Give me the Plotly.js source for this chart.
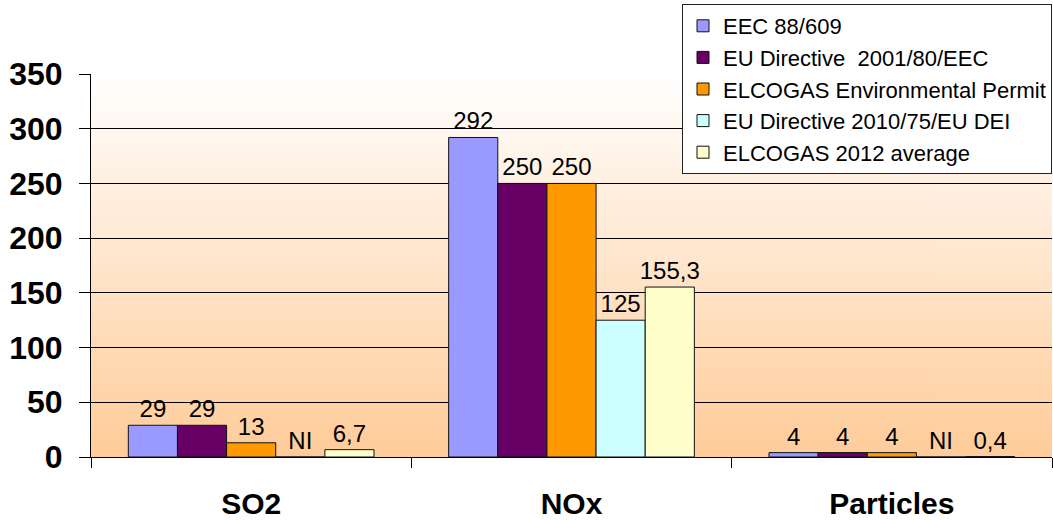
<!DOCTYPE html>
<html>
<head>
<meta charset="utf-8">
<script src="https://cdn.plot.ly/plotly-3.0.1.min.js"></script>
<style>
  html, body { margin: 0; padding: 0; background: #fff; }
  #chart { width: 1053px; height: 520px; }
</style>
</head>
<body>
<div id="chart"></div>
<script>
// ---- data ----
const categories = ['SO2', 'NOx', 'Particles'];
const seriesNames = [
  'EEC 88/609',
  'EU Directive  2001/80/EEC',
  'ELCOGAS Environmental Permit',
  'EU Directive 2010/75/EU DEI',
  'ELCOGAS 2012 average'
];
const eec88609      = [29, 292, 4];
const euDir200180   = [29, 250, 4];
const elcogasPermit = [13, 250, 4];
const euDir201075   = [null, 125, null];   // NI = not indicated
const elcogas2012   = [6.7, 155.3, 0.4];
const yTicks = [0, 50, 100, 150, 200, 250, 300, 350];

const seriesValues = [eec88609, euDir200180, elcogasPermit, euDir201075, elcogas2012];
const seriesColors = ['#9999FF', '#660066', '#FF9900', '#CCFFFF', '#FFFFCC'];

// ---- background gradient (plot area) ----
function gradientURL() {
  const c = document.createElement('canvas');
  c.width = 4; c.height = 400;
  const g = c.getContext('2d');
  const lg = g.createLinearGradient(0, 0, 0, 400);
  lg.addColorStop(0, '#FFFFFF');
  lg.addColorStop(1, '#FFCC99');
  g.fillStyle = lg;
  g.fillRect(0, 0, 4, 400);
  return c.toDataURL('image/png');
}

const FONT = '"Liberation Sans", Arial, sans-serif';

const traces = seriesValues.map((vals, i) => ({
  type: 'bar',
  name: seriesNames[i],
  x: categories,
  y: vals.map(v => (v === null ? 0 : v)),
  text: vals.map(v => (v === null ? 'NI' : String(v).replace('.', ','))),
  textposition: 'outside',
  constraintext: 'none',
  cliponaxis: false,
  textfont: { family: FONT, size: 24, color: '#000' },
  marker: { color: seriesColors[i], line: { color: '#111', width: 1 } },
  hoverinfo: 'x+y+name'
}));

const layout = {
  width: 1053,
  height: 520,
  margin: { l: 91, r: 1, t: 74, b: 63, autoexpand: false },
  paper_bgcolor: '#FFFFFF',
  plot_bgcolor: 'rgba(0,0,0,0)',
  font: { family: FONT, color: '#000' },
  barmode: 'group',
  bargap: 0.233,
  bargroupgap: 0,
  showlegend: true,
  legend: {
    x: 1, xanchor: 'right',
    yref: 'container', y: 1 - 4 / 520, yanchor: 'top',
    bgcolor: '#FFFFFF',
    bordercolor: '#222',
    borderwidth: 1,
    font: { family: FONT, size: 22, color: '#000' },
    traceorder: 'normal',
    tracegroupgap: 0
  },
  xaxis: {
    type: 'category',
    showline: true, linecolor: '#000', linewidth: 1,
    ticks: 'outside', tickson: 'boundaries', ticklen: 10, tickcolor: '#000',
    tickfont: { family: FONT, size: 30, color: '#000', weight: 'bold' },
    ticklabelstandoff: 20,
    showgrid: false
  },
  yaxis: {
    range: [0, 350],
    tickvals: yTicks,
    ticktext: yTicks.map(String),
    showline: true, linecolor: '#000', linewidth: 1,
    ticks: 'outside', ticklen: 11, tickcolor: '#000',
    tickfont: { family: FONT, size: 32, color: '#000', weight: 'bold' },
    ticklabelstandoff: 10,
    showgrid: true, gridcolor: '#000', gridwidth: 1,
    zeroline: true, zerolinecolor: '#000', zerolinewidth: 1
  },
  images: [{
    source: gradientURL(),
    xref: 'paper', yref: 'paper',
    x: 0, y: 1, sizex: 1, sizey: 1,
    xanchor: 'left', yanchor: 'top',
    sizing: 'stretch',
    layer: 'below'
  }]
};

Plotly.newPlot('chart', traces, layout, { displayModeBar: false, staticPlot: true });
</script>
</body>
</html>
